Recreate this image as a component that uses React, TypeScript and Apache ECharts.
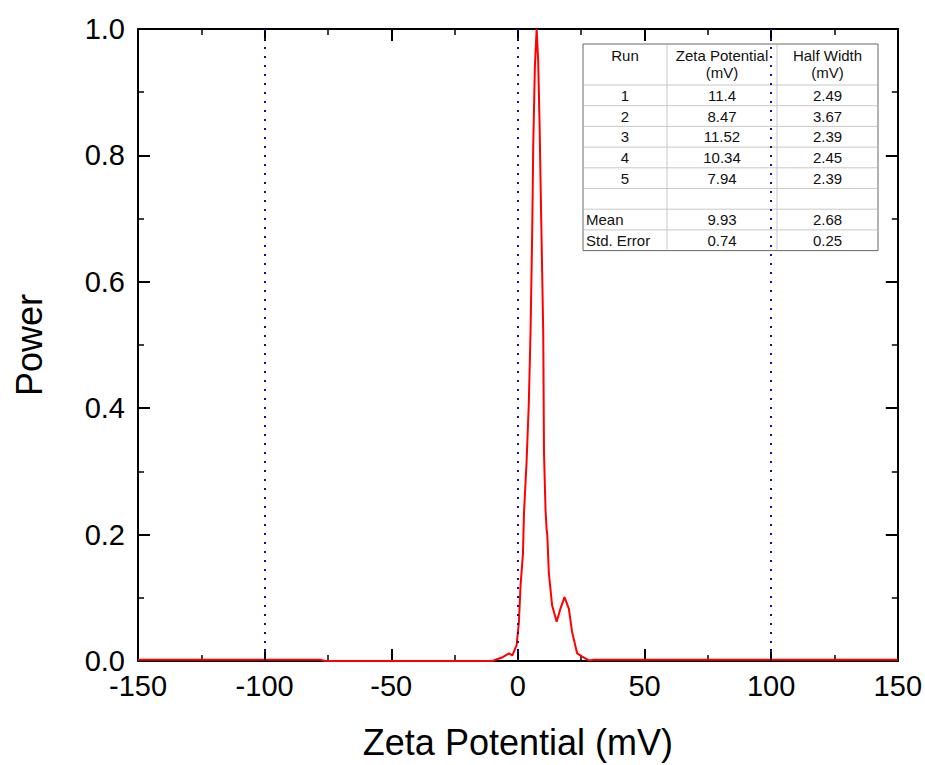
import React, { useEffect, useRef } from "react";
import * as echarts from "echarts";

// Spectrum (Zeta potential mV, power)
const zetaMv = [-150, -78, -76, -10, -8.8, -6, -3.5, -2.2, -0.5, 0.4, 1.05, 2.0, 2.4, 3.4, 4.3, 5.0, 5.65, 6.05, 6.7, 7.4, 8.0, 8.55, 9.2, 10.0, 10.3, 10.9, 11.3, 11.6, 12.2, 13.5, 15.3, 16.8, 18.4, 20.1, 21.4, 23.4, 25.4, 28, 30, 150];
const power = [0.002, 0.002, 0, 0, 0.002, 0.006, 0.012, 0.009, 0.025, 0.062, 0.12, 0.17, 0.234, 0.313, 0.407, 0.522, 0.68, 0.815, 0.94, 1.0, 0.95, 0.85, 0.7, 0.52, 0.33, 0.24, 0.21, 0.2, 0.14, 0.088, 0.062, 0.083, 0.101, 0.083, 0.046, 0.012, 0.007, 0.001, 0.002, 0.002];

// Reference lines
const refLines = [-100, 0, 100];

// Table
const tableHeaders = [["Run"], ["Zeta Potential", "(mV)"], ["Half Width", "(mV)"]];
const tableRuns = ["1", "2", "3", "4", "5"];
const zetaValues = ["11.4", "8.47", "11.52", "10.34", "7.94"];
const halfWidths = ["2.49", "3.67", "2.39", "2.45", "2.39"];
const summaryLabels = ["Mean", "Std. Error"];
const summaryZeta = ["9.93", "0.74"];
const summaryHalf = ["2.68", "0.25"];

const FONT = "'Liberation Sans', Arial, sans-serif";

function buildTable() {
  const xs = [583, 667, 777, 878];
  const y0 = 44;
  const headH = 41;
  const rowH = 20.7;
  const rowCount = tableRuns.length + 1 + summaryLabels.length;
  const yEnd = y0 + headH + rowH * rowCount;
  const els: any[] = [];
  els.push({ type: "rect", shape: { x: xs[0], y: y0, width: xs[3] - xs[0], height: yEnd - y0 }, style: { fill: "#fff", stroke: "#666", lineWidth: 1 } });
  for (let i = 0; i < rowCount; i++) {
    const y = y0 + headH + rowH * i;
    els.push({ type: "line", shape: { x1: xs[0] + 1, y1: y, x2: xs[3] - 1, y2: y }, style: { stroke: "#c8c8c8", lineWidth: 1 } });
  }
  [xs[1], xs[2]].forEach((x) => {
    els.push({ type: "line", shape: { x1: x, y1: y0 + 1, x2: x, y2: yEnd - 1 }, style: { stroke: "#c8c8c8", lineWidth: 1 } });
  });
  const cx = xs.slice(0, 3).map((x, i) => (x + xs[i + 1]) / 2);
  const txt = (t: string, x: number, y: number, align = "center") => ({
    type: "text",
    x,
    y,
    style: { text: t, fill: "#111", font: `15px ${FONT}`, textAlign: align, textVerticalAlign: "middle" },
  });
  tableHeaders.forEach((lines, c) => {
    lines.forEach((l, k) => els.push(txt(l, cx[c], y0 + 11 + k * 17)));
  });
  tableRuns.forEach((r, i) => {
    const y = y0 + headH + rowH * (i + 0.5);
    els.push(txt(r, cx[0], y));
    els.push(txt(zetaValues[i], cx[1], y));
    els.push(txt(halfWidths[i], cx[2], y));
  });
  summaryLabels.forEach((s, i) => {
    const y = y0 + headH + rowH * (tableRuns.length + 1 + i + 0.5);
    els.push(txt(s, xs[0] + 3, y, "left"));
    els.push(txt(summaryZeta[i], cx[1], y));
    els.push(txt(summaryHalf[i], cx[2], y));
  });
  return { type: "group", z: 100, children: els };
}

export default function App() {
  const ref = useRef<HTMLDivElement>(null);
  useEffect(() => {
    document.body.style.margin = "0";
    const chart = echarts.init(ref.current!, undefined, { renderer: "svg" });
    const axisLineStyle = { color: "#000", width: 2 };
    const tick = { show: true, inside: true, length: 12, lineStyle: { color: "#000", width: 2 } };
    const minor = { show: true, splitNumber: 2, length: 6, lineStyle: { color: "#000", width: 1.5 } };
    chart.setOption({
      animation: false,
      backgroundColor: "#fff",
      textStyle: { fontFamily: FONT },
      grid: { left: 138, right: 27, top: 29, bottom: 99, containLabel: false },
      xAxis: [
        {
          type: "value",
          min: -150,
          max: 150,
          interval: 50,
          z: 3,
          name: "Zeta Potential (mV)",
          nameLocation: "middle",
          nameGap: 63,
          nameTextStyle: { fontSize: 36, color: "#000", fontFamily: FONT },
          axisLine: { show: true, onZero: false, lineStyle: axisLineStyle },
          axisTick: tick,
          minorTick: minor,
          splitLine: { show: false },
          axisLabel: { fontSize: 29, color: "#000", margin: 10, fontFamily: FONT },
        },
        {
          type: "value",
          position: "top",
          min: -150,
          max: 150,
          interval: 50,
          z: 3,
          axisLine: { show: true, onZero: false, lineStyle: axisLineStyle },
          axisTick: tick,
          minorTick: minor,
          splitLine: { show: false },
          axisLabel: { show: false },
        },
      ],
      yAxis: [
        {
          type: "value",
          min: 0,
          max: 1,
          interval: 0.2,
          z: 3,
          name: "Power",
          nameLocation: "middle",
          nameGap: 91,
          nameTextStyle: { fontSize: 36, color: "#000", fontFamily: FONT },
          axisLine: { show: true, onZero: false, lineStyle: axisLineStyle },
          axisTick: tick,
          minorTick: minor,
          splitLine: { show: false },
          axisLabel: { fontSize: 29, color: "#000", margin: 13, fontFamily: FONT, formatter: (v: number) => v.toFixed(1) },
        },
        {
          type: "value",
          position: "right",
          min: 0,
          max: 1,
          interval: 0.2,
          z: 3,
          axisLine: { show: true, onZero: false, lineStyle: axisLineStyle },
          axisTick: tick,
          minorTick: minor,
          splitLine: { show: false },
          axisLabel: { show: false },
        },
      ],
      series: [
        {
          type: "line",
          data: zetaMv.map((x, i) => [x, power[i]]),
          showSymbol: false,
          symbol: "none",
          clip: true,
          lineStyle: { color: "#ff0000", width: 2 },
          markLine: {
            silent: true,
            symbol: "none",
            label: { show: false },
            lineStyle: { type: [2, 7], color: "#1010a0", width: 2 },
            data: refLines.map((v) => ({ xAxis: v })),
          },
        },
      ],
      graphic: [buildTable()],
    });
    return () => chart.dispose();
  }, []);
  return <div ref={ref} style={{ position: "absolute", left: 0, top: 0, width: 925, height: 765 }} />;
}
